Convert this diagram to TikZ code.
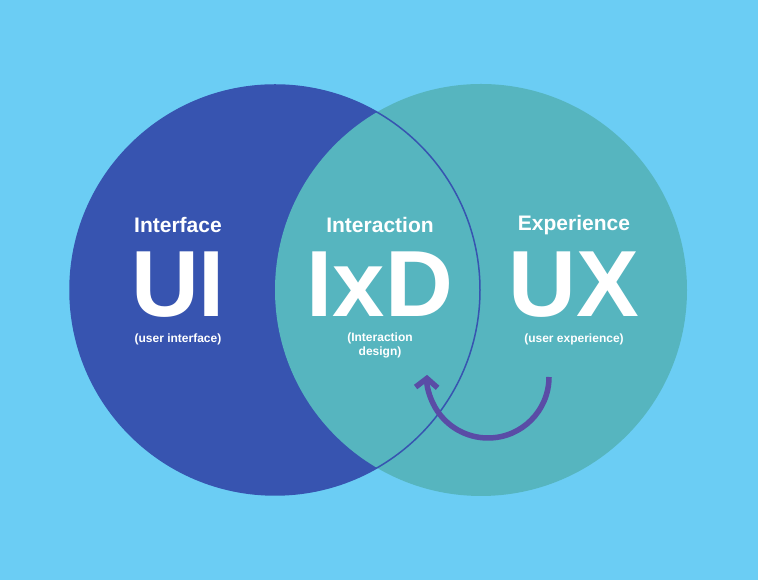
\documentclass[tikz,border=0pt]{standalone}
\usepackage{fontspec}
\setmainfont{Liberation Sans}
\usetikzlibrary{arrows.meta}
\definecolor{bgblue}{HTML}{6BCDF4}
\definecolor{uiblue}{HTML}{3754B0}
\definecolor{uxteal}{HTML}{56B5BF}
\definecolor{arcpurple}{HTML}{5A4CA6}
\tikzset{
  small/.style={text=white,font=\bfseries\fontsize{21}{24}\selectfont},
  big/.style={text=white,inner sep=0pt,text depth=0pt,anchor=base,font=\bfseries\fontsize{94}{94}\selectfont},
  note/.style={text=white,inner sep=1pt,font=\bfseries\fontsize{12}{14}\selectfont,align=center}
}
\begin{document}
\begin{tikzpicture}[x=1pt,y=1pt]
    \useasboundingbox[fill=bgblue] (0,0) rectangle (758,580);

    % circles
    \fill[uiblue] (275,290) circle (205);
    \fill[uxteal] (481,290) circle (206);
    \draw[uiblue,line width=1.5pt] (275,290) circle (205);

    % texts
    \node[small] (uiname) at (178,355) {Interface};
    \node[big] (ui) at (178,263) {UI};
    \node[note] (uinote) at (178,241) {(user interface)};

    \node[small] (ixdname) at (380,355) {Interaction};
    \node[big] (ixd) at (380,263) {IxD};
    \node[note] (ixdnote) at (380,235) {(Interaction\\design)};

    \node[small] (uxname) at (574,355) {Experience};
    \node[big] (ux) at (574,263) {UX};
    \node[note] (uxnote) at (574,241) {(user experience)};

    % arrow
    \coordinate (arcstart) at (549,203);
    \draw[arcpurple,line width=5.5pt,-{Straight Barb[length=9pt,width=22pt]}]
        (arcstart) arc[start angle=0,end angle=-182,radius=61];
\end{tikzpicture}
\end{document}
